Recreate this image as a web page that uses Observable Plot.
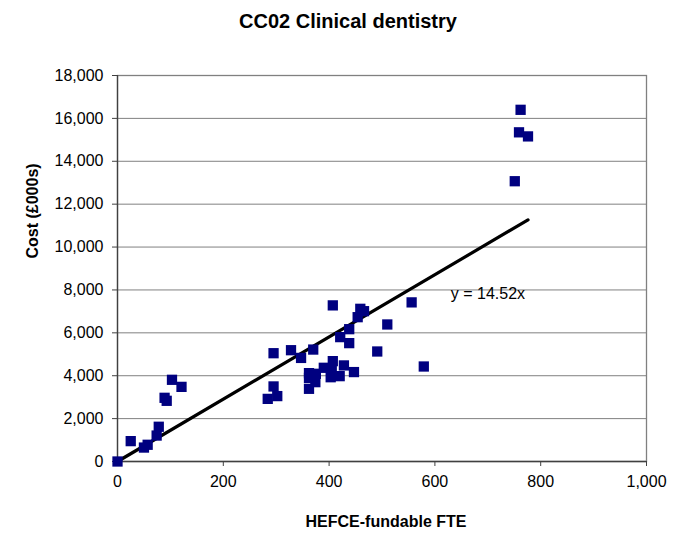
<!DOCTYPE html>
<html>
<head>
<meta charset="utf-8">
<script src="https://cdn.jsdelivr.net/npm/d3@7"></script>
<script src="https://cdn.jsdelivr.net/npm/@observablehq/plot@0.6"></script>
<style>
  html, body { margin: 0; padding: 0; background: #fff; }
</style>
</head>
<body>
<div id="chart"></div>
<script>
const title = "CC02 Clinical dentistry";
const xLabel = "HEFCE-fundable FTE";
const yLabel = "Cost (£000s)";
const trendLabel = "y = 14.52x";

const fte = [0, 25, 50, 57, 74, 78, 89, 93, 103, 121,
  284, 295, 302, 295, 328, 347, 370, 362, 375, 362, 374, 362,
  390, 407, 428, 405, 447, 420, 403, 407, 421, 438, 438, 454, 459, 466,
  491, 510, 556, 579, 751, 759, 762, 776];
const cost = [0, 950, 650, 780, 1210, 1620, 2970, 2830, 3810, 3480,
  2920, 3500, 3050, 5050, 5190, 4830, 5220, 4120, 4090, 3900, 3700, 3390,
  4370, 4680, 4480, 4240, 4170, 3980, 3930, 7280, 5800, 6170, 5520, 6730, 7120, 7010,
  5130, 6390, 7420, 4430, 13070, 15350, 16400, 15160];

const trendX = [0, 776];
const trendY = [0, 11268];
const trendLabelX = [630];
const trendLabelY = [7830];

const xTicks = [0, 200, 400, 600, 800, 1000];
const yTicks = [0, 2000, 4000, 6000, 8000, 10000, 12000, 14000, 16000, 18000];

const points = fte.map((x, i) => ({x, y: cost[i]}));
const trend = trendX.map((x, i) => ({x, y: trendY[i]}));
const fmt = d3.format(",");

const font = "Liberation Sans, Arial, Helvetica, sans-serif";

const chart = Plot.plot({
  width: 675,
  height: 536,
  marginLeft: 117,
  marginRight: 29,
  marginTop: 75,
  marginBottom: 75,
  style: {fontFamily: font, fontSize: "16px", background: "#fff", color: "#000"},
  x: {domain: [0, 1000]},
  y: {domain: [0, 18000]},
  marks: [
    Plot.gridY(yTicks, {stroke: "#808080", strokeOpacity: 1, strokeWidth: 1}),
    Plot.frame({stroke: "#808080", strokeWidth: 1.3}),
    Plot.ruleX([0], {stroke: "#404040", strokeWidth: 1.3}),
    Plot.ruleY([0], {stroke: "#404040", strokeWidth: 1.3}),
    Plot.axisX({ticks: xTicks, tickFormat: fmt, tickSize: 5, tickPadding: 9, label: null, fontSize: 16, stroke: "#404040"}),
    Plot.axisY({ticks: yTicks, tickFormat: fmt, tickSize: 5, tickPadding: 9, label: null, fontSize: 16, stroke: "#404040"}),
    Plot.line(trend, {x: "x", y: "y", stroke: "#000", strokeWidth: 3.2}),
    Plot.dot(points, {x: "x", y: "y", symbol: "square", r: 5.8, fill: "#000080", stroke: "none"}),
    Plot.text(trendLabelX.map((x, i) => ({x, y: trendLabelY[i]})), {x: "x", y: "y", text: () => trendLabel, textAnchor: "start", fontSize: 16, fill: "#000"}),
    Plot.text([title], {frameAnchor: "top", dx: -34, dy: -62, fontSize: 20, fontWeight: "bold", fill: "#000"}),
    Plot.text([xLabel], {frameAnchor: "bottom", dx: 4, dy: 65, fontSize: 16, fontWeight: "bold", fill: "#000"}),
    Plot.text([yLabel], {frameAnchor: "left", dx: -85, dy: -10, rotate: -90, fontSize: 16, fontWeight: "bold", fill: "#000"})
  ]
});
document.getElementById("chart").appendChild(chart);
</script>
</body>
</html>
